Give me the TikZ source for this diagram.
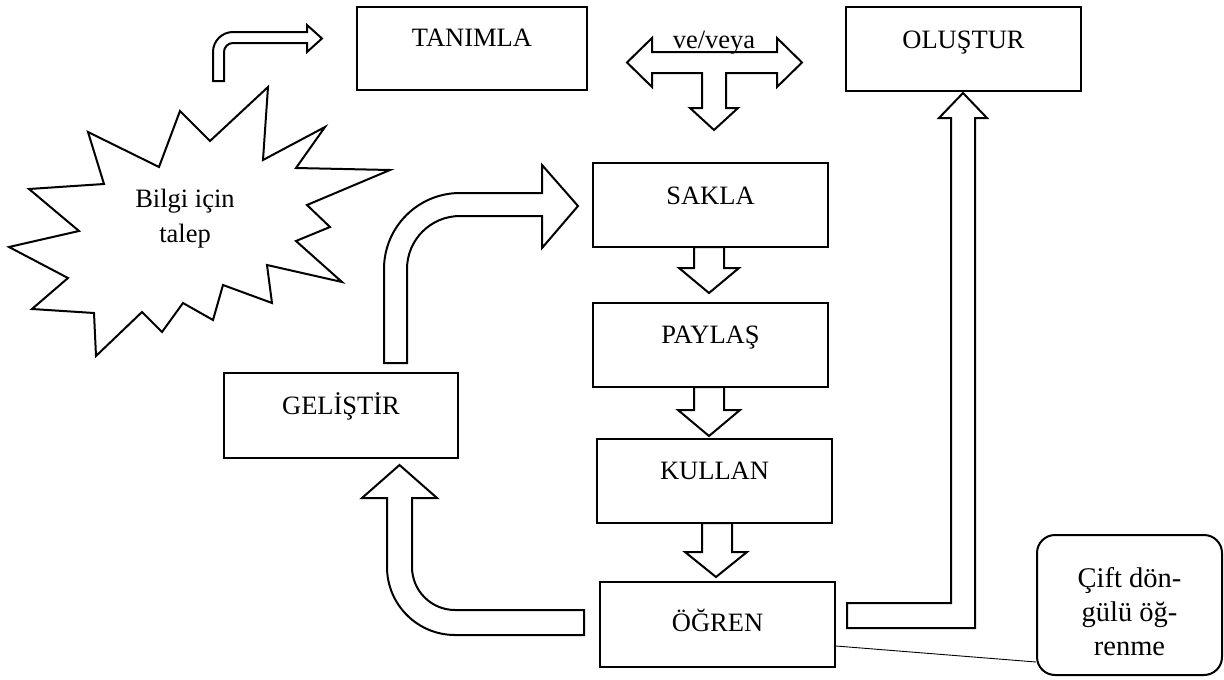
\documentclass[tikz,border=0pt]{standalone}
\usepackage{fontspec}
\setmainfont{Liberation Serif}
\usetikzlibrary{calc}
\begin{document}
\begin{tikzpicture}[x=1pt,y=-1pt,
  box/.style={draw, line width=2pt, rectangle, inner sep=0pt, fill=white},
  lbl/.style={inner sep=0pt, anchor=base, font=\fontsize{26.5}{32}\selectfont},
  clbl/.style={inner sep=0pt, anchor=base, font=\fontsize{28.5}{34}\selectfont},
  blk/.style={draw, line width=2pt, fill=white, line join=miter},
  thinline/.style={line width=0.9pt}]
\useasboundingbox (0,0) rectangle (1224,680);

% boxes
\node[box, minimum width=230, minimum height=83] (tanimla) at (472,48.5) {};
\node[box, minimum width=235, minimum height=84] (olustur) at (963.5,49) {};
\node[box, minimum width=235, minimum height=84] (sakla) at (710.5,205) {};
\node[box, minimum width=235, minimum height=84] (paylas) at (710.5,345) {};
\node[box, minimum width=235, minimum height=84] (kullan) at (714.5,481) {};
\node[box, minimum width=235, minimum height=85] (ogren) at (717.5,624.5) {};
\node[box, minimum width=234, minimum height=85] (gelistir) at (341,415.5) {};
\node[box, rounded corners=18pt, minimum width=185, minimum height=140] (callout) at (1129.5,605) {};

% labels
\node[lbl] (tanimlaT) at (472,46) {TANIMLA};
\node[lbl] (olusturT) at (963.5,48) {OLUŞTUR};
\node[lbl] (saklaT) at (710.5,204) {SAKLA};
\node[lbl] (paylasT) at (710.5,343) {PAYLAŞ};
\node[lbl] (kullanT) at (714.5,479) {KULLAN};
\node[lbl] (ogrenT) at (717.5,631) {ÖĞREN};
\node[lbl] (gelistirT) at (341,414) {GELİŞTİR};

% starburst
\draw[line width=2pt, line join=miter, fill=white]
  (268,87) -- (263,160) -- (325,127) -- (296,168) -- (390,170) -- (307,205)
  -- (330,227) -- (296,241) -- (342,282) -- (267,265) -- (272,303) -- (223,285)
  -- (213,320) -- (183,303) -- (162,332) -- (142,312) -- (96,356) -- (94,313)
  -- (32,309) -- (68,278) -- (9,247) -- (79,231) -- (29,189) -- (104,184)
  -- (88,132) -- (159,167) -- (180,111) -- (210,141) -- cycle;
\node[lbl] (bilgi1) at (185,207) {Bilgi için};
\node[lbl] (bilgi2) at (185,242) {talep};

% small bent arrow (top left)
\draw[blk] (213,81) -- (213,52) arc[start angle=180, end angle=270, radius=20]
  -- (307,32) -- (307,25) -- (322,38.5) -- (307,52) -- (307,43) -- (233,43)
  arc[start angle=270, end angle=180, radius=9] -- (224,81) -- cycle;

% T arrow ve/veya
\draw[blk] (627,62.5) -- (652,38) -- (652,52) -- (777,52) -- (777,38) -- (802,62.5)
  -- (777,87) -- (777,73) -- (726,73) -- (726,108) -- (738,108) -- (714,130)
  -- (690,108) -- (702,108) -- (702,73) -- (652,73) -- (652,87) -- cycle;
\node[lbl] (veveya) at (714,48) {ve/veya};

% big bent arrow GELISTIR -> SAKLA
\draw[blk] (384,363) -- (384,269) arc[start angle=180, end angle=270, radius=76]
  -- (542,193) -- (542,165) -- (578,206) -- (542,248) -- (542,216) -- (460,216)
  arc[start angle=270, end angle=180, radius=53] -- (407,363) -- cycle;

% bent arrow OGREN -> GELISTIR
\draw[blk] (584,610) -- (455,610) arc[start angle=90, end angle=180, radius=43]
  -- (412,498) -- (437,498) -- (399.5,465) -- (362,498) -- (387,498) -- (387,567)
  arc[start angle=180, end angle=90, radius=68] -- (584,635) -- cycle;

% down arrows
\draw[blk] (694,247) -- (694,268) -- (679,268) -- (709,293) -- (739,268) -- (724,268) -- (724,247) -- cycle;
\draw[blk] (694,387) -- (694,410) -- (678,410) -- (709,436) -- (740,410) -- (724,410) -- (724,387) -- cycle;
\draw[blk] (702,523) -- (702,552) -- (685,552) -- (716,577) -- (747,552) -- (732,552) -- (732,523) -- cycle;

% OGREN -> OLUSTUR arrow
\draw[blk] (963,93) -- (987,118) -- (975,118) -- (975,628) -- (847,628) -- (847,603)
  -- (951,603) -- (951,118) -- (939,118) -- cycle;

% callout
\node[clbl] (call1) at (1129.5,587) {Çift dön-};
\node[clbl] (call2) at (1129.5,621) {gülü öğ-};
\node[clbl] (call3) at (1129.5,655) {renme};
\draw[thinline] ($(ogren.east)+(0,21.5)$) -- ($(callout.west)+(0,57)$);
\end{tikzpicture}
\end{document}
